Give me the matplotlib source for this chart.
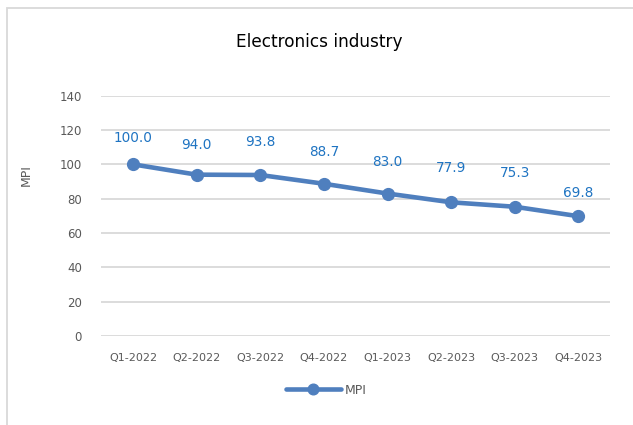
import matplotlib.pyplot as plt
from matplotlib.patches import Rectangle

# quarterly MPI for the electronics industry
quarters = ['Q1-2022', 'Q2-2022', 'Q3-2022', 'Q4-2022',
            'Q1-2023', 'Q2-2023', 'Q3-2023', 'Q4-2023']
mpi = [100.0, 94.0, 93.8, 88.7, 83.0, 77.9, 75.3, 69.8]
yticks = [0, 20, 40, 60, 80, 100, 120, 140]

# how far each value label sits above its point (pixels)
label_lift = [26, 30, 33, 32, 32, 34, 34, 23]

line_col = '#4f7fbe'
label_col = '#1f74c2'
text_grey = '#595959'
grid_col = '#d9d9d9'

fig = plt.figure(figsize=(6.33, 4.25), dpi=100)
ax = fig.add_axes([0.16, 0.2094, 0.804, 0.5654])

# outer chart frame
fig.patches.append(Rectangle((7.5 / 633, -0.1), 1.2, 1.1 - 8 / 425,
                             transform=fig.transFigure, fill=False,
                             edgecolor=grid_col, linewidth=1.3))

x = range(len(quarters))
ax.plot(x, mpi, color=line_col, linewidth=3.3, marker='o', markersize=8.5,
        solid_capstyle='round', label='MPI', zorder=3)

for i, v in enumerate(mpi):
    ax.annotate(f'{v:.1f}', (i, v), xytext=(0, label_lift[i]),
                textcoords='offset pixels', ha='center', va='center',
                fontsize=9.8, color=label_col)

ax.set_xlim(-0.5, len(quarters) - 0.5)
ax.set_ylim(0, 140)
ax.set_yticks(yticks)
ax.set_xticks(list(x))
ax.set_xticklabels(quarters)
ax.grid(axis='y', color=grid_col, linewidth=1.3)
ax.set_axisbelow(True)
for s in ax.spines.values():
    s.set_visible(False)
ax.tick_params(axis='both', length=0, colors=text_grey, labelsize=8)
ax.tick_params(axis='y', labelsize=8.5, pad=14)
ax.tick_params(axis='x', pad=12)

ax.set_ylabel('MPI', color=text_grey, fontsize=9)
ax.yaxis.set_label_coords(-0.134, 0.67)

fig.text(0.5 + 0.005, 1 - 42 / 425, 'Electronics industry', ha='center',
         va='center', fontsize=12.2, color='black')

fig.legend(loc='center', bbox_to_anchor=(0.515, 1 - 390 / 425), frameon=False,
           handlelength=4.4, fontsize=9, labelcolor=text_grey,
           handletextpad=0.3, markerscale=0.9)

fig.savefig('out.png', dpi=100)
